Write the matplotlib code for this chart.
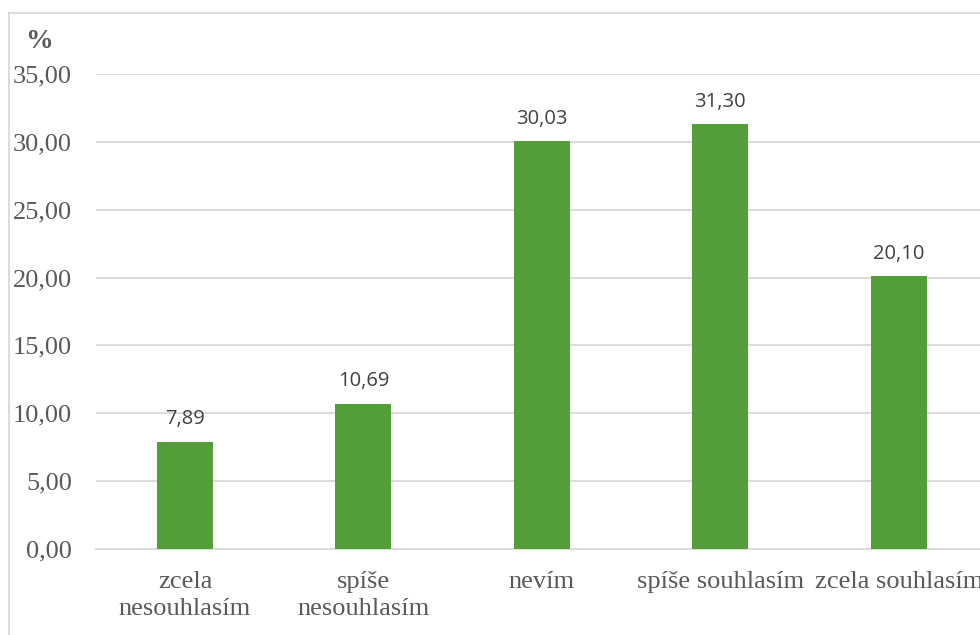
import matplotlib
matplotlib.use("Agg")
import matplotlib.pyplot as plt
from matplotlib.lines import Line2D

categories = ["zcela\nnesouhlasím", "spíše\nnesouhlasím", "nevím", "spíše souhlasím", "zcela souhlasím"]
values = [7.89, 10.69, 30.03, 31.30, 20.10]
yticks = [0, 5, 10, 15, 20, 25, 30, 35]

W, H = 980, 635
fig = plt.figure(figsize=(W / 100, H / 100), dpi=100)
ax = fig.add_axes([95.75 / W, (H - 549) / H, (988 - 95.75) / W, (549 - 74) / H])

x = list(range(len(categories)))
bars = ax.bar(x, values, width=0.314, color="#549E39", zorder=3)

ax.set_xlim(-0.5, len(categories) - 0.5)
ax.set_ylim(0, 35)
ax.set_yticks(yticks)
ax.set_yticklabels([f"{v:.2f}".replace(".", ",") for v in yticks],
                   fontfamily="Liberation Serif", fontsize=19, color="#595959")
ax.set_xticks(x)
ax.set_xticklabels(categories, fontfamily="Liberation Serif", fontsize=19,
                   color="#595959", linespacing=1.3)
ax.tick_params(axis="y", length=0, pad=17)
ax.tick_params(axis="x", length=0, pad=16)
ax.grid(axis="y", color="#D9D9D9", linewidth=1.3, zorder=0)
for s in ["top", "right", "left"]:
    ax.spines[s].set_visible(False)
ax.spines["bottom"].set_color("#D9D9D9")
ax.spines["bottom"].set_linewidth(1.3)
ax.set_facecolor("none")

for xi, v in zip(x, values):
    ax.annotate(f"{v:.2f}".replace(".", ","), (xi, v), xytext=(0, 9),
                textcoords="offset points", ha="center", va="bottom",
                fontfamily="Open Sans", fontsize=14.5, color="#404040")

fig.text(25 / W, 1 - 41 / H, "%", fontfamily="Liberation Serif", fontsize=20,
         fontweight="bold", color="#595959", va="center", ha="left")

# chart border (partially visible)
fig.add_artist(Line2D([8.5 / W, 8.5 / W], [0, 1 - 12.5 / H], transform=fig.transFigure,
                      color="#D9D9D9", linewidth=1.3))
fig.add_artist(Line2D([8.5 / W, 1], [1 - 12.5 / H, 1 - 12.5 / H], transform=fig.transFigure,
                      color="#D9D9D9", linewidth=1.3))

fig.savefig("out.png", dpi=100)
